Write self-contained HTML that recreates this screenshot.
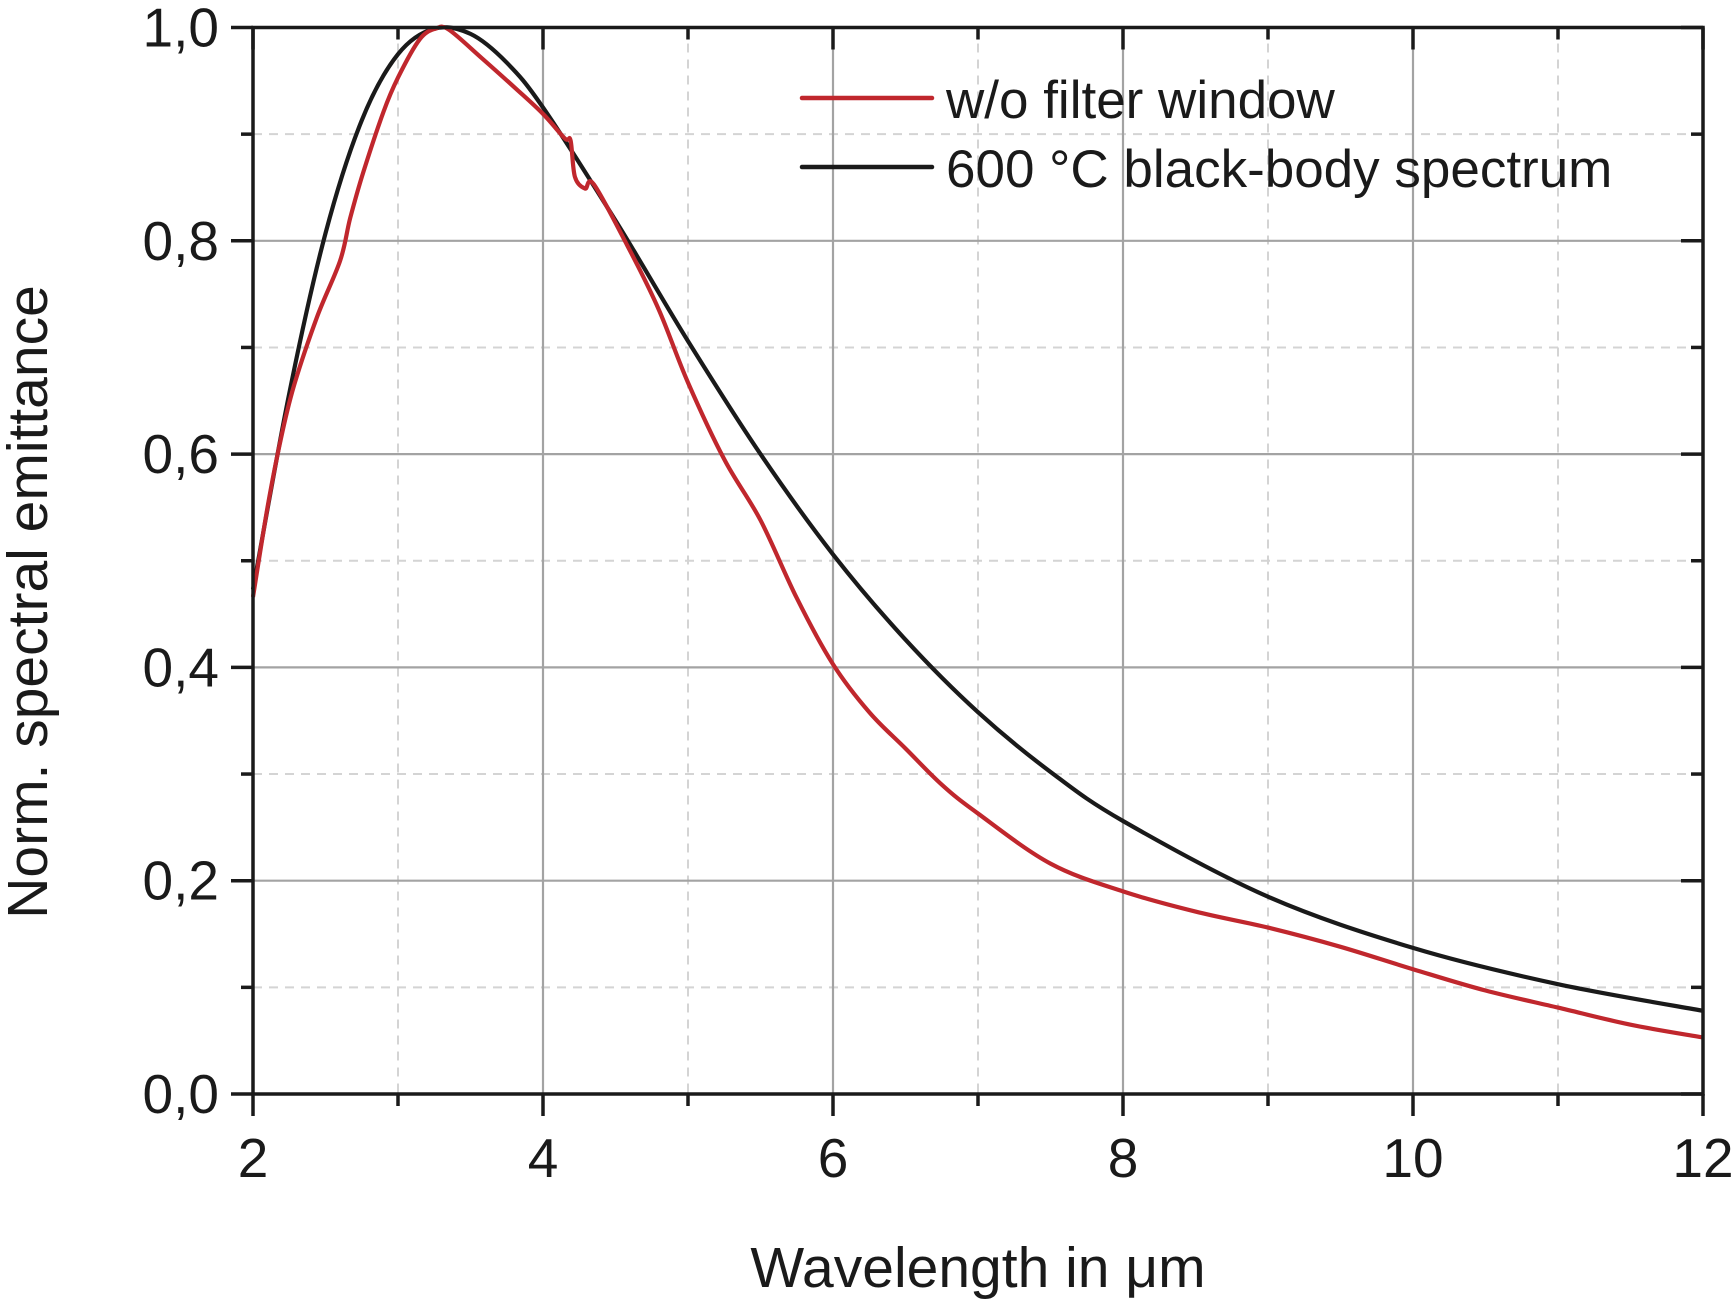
<!DOCTYPE html>
<html><head><meta charset="utf-8"><style>
html,body{margin:0;padding:0;background:#fff;}
svg{display:block;font-family:"Liberation Sans",Arial,sans-serif;}
</style></head><body>
<svg id="chart" width="1736" height="1300" viewBox="0 0 1736 1300" xmlns="http://www.w3.org/2000/svg">
<g id="grid"></g>
<g id="series"></g>
<g id="axes"></g>
<g id="legend">
  <line x1="802" y1="98" x2="932" y2="98" stroke="#c0272d" stroke-width="4.5" stroke-linecap="round"/>
  <text x="946" y="118" font-size="53" fill="#1a1a1a">w/o filter window</text>
  <line x1="802" y1="167" x2="932" y2="167" stroke="#1a1a1a" stroke-width="4.5" stroke-linecap="round"/>
  <text x="946" y="187" font-size="53" fill="#1a1a1a">600 °C black-body spectrum</text>
</g>
<text x="978" y="1287" font-size="57" text-anchor="middle" fill="#1a1a1a">Wavelength in μm</text>
<text transform="translate(47,602) rotate(-90)" font-size="57" text-anchor="middle" fill="#1a1a1a">Norm. spectral emittance</text>
</svg>
<script>
const xTicks = [2, 4, 6, 8, 10, 12];
const xMinor = [3, 5, 7, 9, 11];
const yTicks = [0, 0.2, 0.4, 0.6, 0.8, 1.0];
const yMinor = [0.1, 0.3, 0.5, 0.7, 0.9];
const yTickLabels = ["0,0", "0,2", "0,4", "0,6", "0,8", "1,0"];
const filterX = [2.0, 2.1, 2.19, 2.28, 2.44, 2.6, 2.67, 2.76, 2.9, 3.0, 3.15, 3.26, 3.35, 3.58, 3.81, 4.0, 4.15, 4.19, 4.22, 4.29, 4.35, 4.58, 4.8, 5.0, 5.25, 5.5, 5.75, 6.0, 6.25, 6.5, 6.75, 7.0, 7.5, 8.0, 8.5, 9.0, 9.5, 10.0, 10.5, 11.0, 11.5, 12.0];
const filterY = [0.466, 0.55, 0.613, 0.663, 0.728, 0.781, 0.821, 0.864, 0.921, 0.953, 0.989, 0.999, 0.998, 0.971, 0.943, 0.919, 0.896, 0.894, 0.860, 0.849, 0.853, 0.796, 0.735, 0.667, 0.595, 0.538, 0.465, 0.403, 0.358, 0.324, 0.29, 0.263, 0.216, 0.19, 0.171, 0.156, 0.138, 0.117, 0.097, 0.081, 0.065, 0.053];
const bbX = [2.0, 2.25, 2.5, 2.75, 3.0, 3.25, 3.5, 3.75, 4.0, 4.5, 5.0, 5.5, 6.0, 6.5, 7.0, 7.5, 8.0, 9.0, 10.0, 11.0, 12.0];
const bbY = [0.473, 0.657, 0.807, 0.913, 0.975, 0.999, 0.994, 0.967, 0.925, 0.819, 0.706, 0.600, 0.506, 0.426, 0.358, 0.302, 0.256, 0.185, 0.137, 0.103, 0.078];

const L = 253, R = 1703, T = 27.5, B = 1094;
const xMin = 2, xMax = 12, yMin = 0, yMax = 1;
function sx(v){ return L + (v - xMin) / (xMax - xMin) * (R - L); }
function sy(v){ return B - (v - yMin) / (yMax - yMin) * (B - T); }
const NS = "http://www.w3.org/2000/svg";
function mk(tag, parent, attrs){ const e = document.createElementNS(NS, tag); for (const k in attrs) e.setAttribute(k, attrs[k]); parent.appendChild(e); return e; }

const grid = document.getElementById('grid');
xMinor.forEach(v => {
  const l = mk('line', grid, {x1: sx(v), x2: sx(v), y1: T, y2: B, stroke: '#d4d4d4', 'stroke-width': 2, 'stroke-dasharray': '9,7'});
  
  
});
yMinor.forEach(v => {
  const l = mk('line', grid, {x1: L, x2: R, y1: sy(v), y2: sy(v), stroke: '#d4d4d4', 'stroke-width': 2, 'stroke-dasharray': '9,7'});
  
  
});
xTicks.forEach(v => {
  const l = mk('line', grid, {x1: sx(v), x2: sx(v), y1: T, y2: B, stroke: '#a3a3a3', 'stroke-width': 2.2});
  
  
});
yTicks.forEach(v => {
  const l = mk('line', grid, {x1: L, x2: R, y1: sy(v), y2: sy(v), stroke: '#a3a3a3', 'stroke-width': 2.2});
  
  
});

function smoothPath(xs, ys){
  const p = xs.map((x, i) => [sx(x), sy(ys[i])]);
  let d = 'M' + p[0][0].toFixed(1) + ',' + p[0][1].toFixed(1);
  for (let i = 0; i < p.length - 1; i++) {
    const p0 = p[Math.max(0, i - 1)], p1 = p[i], p2 = p[i + 1], p3 = p[Math.min(p.length - 1, i + 2)];
    const c1x = p1[0] + (p2[0] - p0[0]) / 6, c1y = p1[1] + (p2[1] - p0[1]) / 6;
    const c2x = p2[0] - (p3[0] - p1[0]) / 6, c2y = p2[1] - (p3[1] - p1[1]) / 6;
    d += ' C' + c1x.toFixed(1) + ',' + c1y.toFixed(1) + ' ' + c2x.toFixed(1) + ',' + c2y.toFixed(1) + ' ' + p2[0].toFixed(1) + ',' + p2[1].toFixed(1);
  }
  return d;
}
const series = document.getElementById('series');
const bb = mk('path', series, {d: smoothPath(bbX, bbY), fill: 'none', stroke: '#1a1a1a', 'stroke-width': 4.2, 'stroke-linejoin': 'round'});


const fl = mk('path', series, {d: smoothPath(filterX, filterY), fill: 'none', stroke: '#c0272d', 'stroke-width': 4.2, 'stroke-linejoin': 'round'});



const axes = document.getElementById('axes');
const frame = mk('rect', axes, {x: L, y: T, width: R - L, height: B - T, fill: 'none', stroke: '#1a1a1a', 'stroke-width': 3.5});


xTicks.forEach(v => {
  const t = mk('line', axes, {x1: sx(v), x2: sx(v), y1: B, y2: B + 22, stroke: '#1a1a1a', 'stroke-width': 3.5});
  
  
  const t2 = mk('line', axes, {x1: sx(v), x2: sx(v), y1: T, y2: T + 22, stroke: '#1a1a1a', 'stroke-width': 3.5});
  
  
  const lb = mk('text', axes, {x: sx(v), y: 1177, 'font-size': 55, 'text-anchor': 'middle', fill: '#1a1a1a'});
  lb.textContent = String(v);
  
  
});
xMinor.forEach(v => {
  const t = mk('line', axes, {x1: sx(v), x2: sx(v), y1: B, y2: B + 12, stroke: '#1a1a1a', 'stroke-width': 3.5});
  
  
  const t2 = mk('line', axes, {x1: sx(v), x2: sx(v), y1: T, y2: T + 12, stroke: '#1a1a1a', 'stroke-width': 3.5});
  
  
});
yTicks.forEach((v, i) => {
  const t = mk('line', axes, {x1: L - 22, x2: L, y1: sy(v), y2: sy(v), stroke: '#1a1a1a', 'stroke-width': 3.5});
  
  
  const t2 = mk('line', axes, {x1: R - 22, x2: R, y1: sy(v), y2: sy(v), stroke: '#1a1a1a', 'stroke-width': 3.5});
  
  
  const lb = mk('text', axes, {x: 219, y: sy(v) + 19, 'font-size': 55, 'text-anchor': 'end', fill: '#1a1a1a'});
  lb.textContent = yTickLabels[i];
  
  
});
yMinor.forEach(v => {
  const t = mk('line', axes, {x1: L - 12, x2: L, y1: sy(v), y2: sy(v), stroke: '#1a1a1a', 'stroke-width': 3.5});
  
  
  const t2 = mk('line', axes, {x1: R - 12, x2: R, y1: sy(v), y2: sy(v), stroke: '#1a1a1a', 'stroke-width': 3.5});
  
  
});
</script>
</body></html>
